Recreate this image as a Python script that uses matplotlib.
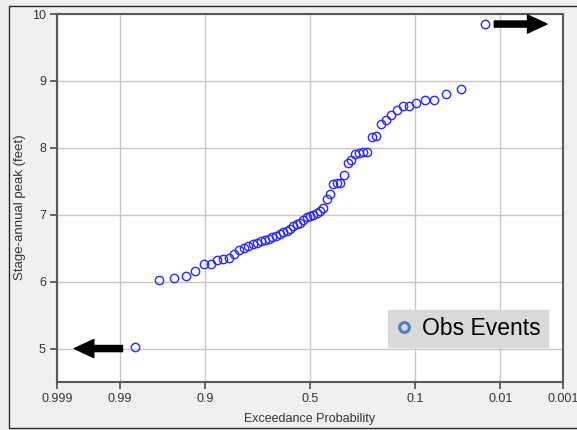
import numpy as np
import matplotlib
matplotlib.use('Agg')
import matplotlib.pyplot as plt
import matplotlib.patches as patches
from matplotlib.lines import Line2D
from statistics import NormalDist

plt.rcParams['font.family'] = ['Liberation Sans', 'DejaVu Sans']

# 观测年最大水位 (feet)，升序
stage = [5.02, 6.03, 6.06, 6.09, 6.16, 6.26, 6.27, 6.32, 6.34, 6.35,
         6.42, 6.48, 6.51, 6.53, 6.56, 6.58, 6.60, 6.62, 6.64, 6.66,
         6.68, 6.71, 6.74, 6.76, 6.79, 6.83, 6.86, 6.88, 6.92, 6.96,
         6.98, 7.00, 7.03, 7.06, 7.10, 7.23, 7.31, 7.46, 7.48, 7.48,
         7.59, 7.78, 7.82, 7.91, 7.93, 7.94, 7.94, 8.16, 8.17, 8.36,
         8.42, 8.49, 8.56, 8.62, 8.62, 8.67, 8.71, 8.72, 8.80, 8.88,
         9.85]
prob_ticks = [0.999, 0.99, 0.9, 0.5, 0.1, 0.01, 0.001]
prob_labels = ['0.999', '0.99', '0.9', '0.5', '0.1', '0.01', '0.001']
stage_ticks = [5, 6, 7, 8, 9, 10]

# Weibull 绘图位置 -> 超越概率
n = len(stage)
rank = np.arange(1, n + 1)
exceed = 1 - rank / (n + 1)

nd = NormalDist()
_ppf = np.vectorize(lambda p: nd.inv_cdf(min(max(p, 1e-9), 1 - 1e-9)), otypes=[float])
_cdf = np.vectorize(lambda z: nd.cdf(z), otypes=[float])


def forward(p):
    return _ppf(np.asarray(p, dtype=float))


def inverse(z):
    return _cdf(np.asarray(z, dtype=float))


fig = plt.figure(figsize=(5.77, 4.30), dpi=100)
fig.patch.set_facecolor('#eceeee')
panel = patches.Rectangle((9 / 577, 2 / 430), 1.0, 422 / 430, transform=fig.transFigure,
                          facecolor='#f0f0f0', edgecolor='#2a2a2a', linewidth=1.0, zorder=-5)
fig.add_artist(panel)

ax = fig.add_axes([57 / 577, 48 / 430, 506 / 577, 368 / 430])
ax.set_zorder(1)
ax.set_facecolor('white')

ax.set_xscale('function', functions=(forward, inverse))
ax.plot(exceed, stage, linestyle='none', marker='o', markersize=6,
        markerfacecolor='none', markeredgecolor='#2a2aff', markeredgewidth=1.0, zorder=5)

ax.set_xlim(0.999, 0.001)
ax.set_ylim(4.5, 10)
ax.set_xticks(prob_ticks)
ax.set_xticklabels(prob_labels)
ax.xaxis.set_minor_locator(matplotlib.ticker.NullLocator())
ax.set_yticks(stage_ticks)
ax.set_yticklabels([str(t) for t in stage_ticks])

ax.grid(True, color='#c8c8c8', linewidth=1.0)
ax.set_axisbelow(True)
for s in ax.spines.values():
    s.set_color('#5a5a5a')
    s.set_linewidth(1.5)
ax.tick_params(axis='both', direction='out', length=5, width=1.3, color='#5a5a5a',
               labelsize=9, labelcolor='#333333', pad=3)

ax.set_xlabel('Exceedance Probability', fontsize=9, color='#333333', labelpad=6)
ax.set_ylabel('Stage-annual peak (feet)', fontsize=9.5, color='#333333')
ax.yaxis.set_label_coords(-0.061, 0.475)

# 超出范围指示箭头
arrow_kw = dict(arrowstyle='simple,head_length=0.7,head_width=0.65,tail_width=0.22',
                mutation_scale=20, color='black', shrinkA=0, shrinkB=0)
ax.annotate('', xy=(0.998, 5.0), xytext=(0.989, 5.0), arrowprops=arrow_kw, zorder=6)
ax.annotate('', xy=(0.0019, 9.85), xytext=(0.0122, 9.85), arrowprops=arrow_kw, zorder=6)

handle = Line2D([0], [0], linestyle='none', marker='o', markersize=7,
                markerfacecolor='none', markeredgecolor='#4a7fc0', markeredgewidth=2.2)
leg = ax.legend([handle], ['Obs Events'], loc='lower right', bbox_to_anchor=(0.970, 0.095),
                fontsize=16.5, frameon=True, fancybox=False, framealpha=1,
                facecolor='#d9d9d9', edgecolor='#d9d9d9', borderpad=0.3,
                handlelength=0.8, handletextpad=0.4, borderaxespad=0)

plt.savefig('out.png', dpi=100, facecolor=fig.get_facecolor())
